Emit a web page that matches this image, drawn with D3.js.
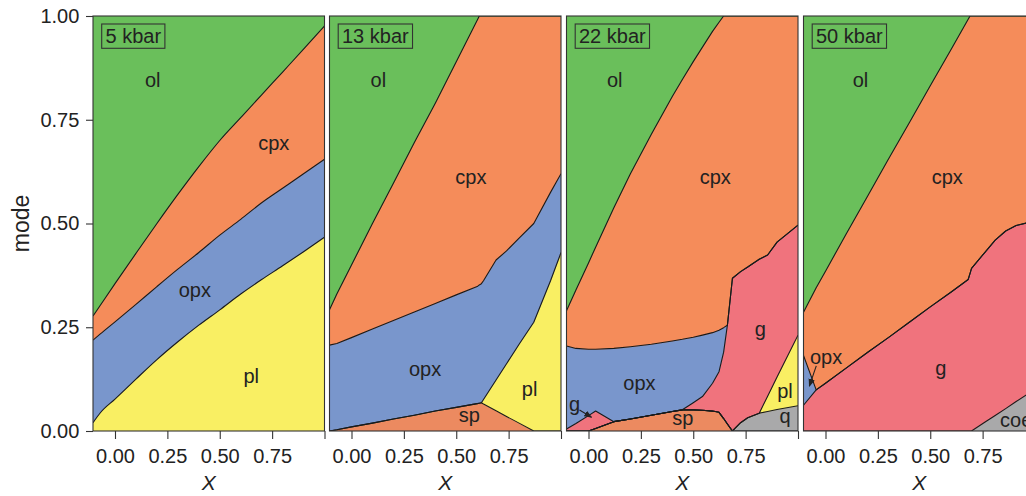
<!DOCTYPE html>
<html><head><meta charset="utf-8">
<script src="https://cdn.jsdelivr.net/npm/d3@7"></script>
<style>
body{margin:0;background:#fff}
svg text{font-family:"Liberation Sans",Arial,Helvetica,sans-serif;fill:#222}
</style>
</head><body><svg id="c" width="1026" height="496"></svg>
<script>
// ---------- data ----------
const panelNames = ["5 kbar", "13 kbar", "22 kbar", "50 kbar"];
const xDomain = [-0.105, 1.0];
const xTicks = [0, 0.25, 0.5, 0.75, 1.0];
const xTickLabels = ["0.00", "0.25", "0.50", "0.75", ""];
const yTicks = [0, 0.25, 0.5, 0.75, 1.0];
const yTickLabels = ["0.00", "0.25", "0.50", "0.75", "1.00"];

// 5 kbar (stack order bottom -> top: pl, opx, cpx, ol)
const X5   = [-0.105,-0.07,0,0.1,0.2,0.3,0.4,0.5,0.6,0.7,0.8,0.9,1.0];
const pl5  = [0.020,0.044,0.077,0.125,0.172,0.215,0.255,0.292,0.330,0.365,0.398,0.432,0.467];
const opx5 = [0.199,0.190,0.186,0.180,0.176,0.175,0.175,0.180,0.180,0.185,0.187,0.188,0.188];
const cpx5 = [0.058,0.069,0.092,0.123,0.152,0.180,0.207,0.228,0.245,0.260,0.280,0.300,0.321];
const ol5  = [0.723,0.697,0.645,0.572,0.500,0.430,0.363,0.300,0.245,0.190,0.135,0.080,0.024];

// 13 kbar (sp, pl, opx, cpx, ol)
const X13   = [-0.105,-0.07,0,0.1,0.2,0.3,0.4,0.5,0.6,0.61,0.62,0.63,0.69,0.74,0.8,0.87,0.95,1.0];
const sp13  = [0,0.003,0.010,0.019,0.029,0.038,0.048,0.057,0.066,0.067,0.068,0.065,0.049,0.035,0.019,0,0,0];
const pl13  = [0,0,0,0,0,0,0,0,0,0,0,0.011,0.074,0.127,0.190,0.262,0.362,0.430];
const opx13 = [0.207,0.208,0.215,0.227,0.237,0.249,0.259,0.271,0.282,0.285,0.287,0.286,0.289,0.272,0.256,0.238,0.213,0.190];
const cpx13 = [0.085,0.119,0.175,0.254,0.331,0.408,0.483,0.562,0.642,0.648,0.645,0.638,0.588,0.566,0.535,0.500,0.425,0.380];
const ol13  = [0.708,0.670,0.600,0.500,0.403,0.305,0.210,0.110,0.010,0,0,0,0,0,0,0,0,0];

// 22 kbar (sp, q, pl, g, opx, cpx, ol)
const X22   = [-0.105,-0.06,0,0.034,0.121,0.2,0.3,0.4,0.448,0.5,0.544,0.592,0.623,0.645,0.663,0.687,0.726,0.76,0.815,0.855,0.9,1.0];
const sp22  = [0,0,0,0.006,0.0225,0.029,0.038,0.047,0.051,0.051,0.050,0.048,0.045,0.030,0.017,0,0,0,0,0,0,0];
const q22   = [0,0,0,0,0,0,0,0,0,0,0,0,0,0,0,0,0.020,0.032,0.043,0.047,0.052,0.061];
const pl22  = [0,0,0,0,0,0,0,0,0,0,0,0,0,0,0,0,0,0,0,0.037,0.078,0.170];
const g22   = [0.005,0.018,0.037,0.042,0,0,0,0,0,0.017,0.033,0.067,0.098,0.160,0.238,0.368,0.364,0.363,0.371,0.340,0.325,0.265];
const opx22 = [0.200,0.181,0.160,0.149,0.1765,0.174,0.171,0.170,0.170,0.158,0.148,0.122,0.100,0.059,0,0,0,0,0,0,0,0];
const cpx22 = [0.085,0.141,0.208,0.246,0.339,0.417,0.506,0.589,0.626,0.664,0.694,0.726,0.742,0.751,0.745,0.632,0.616,0.605,0.586,0.576,0.545,0.504];
const ol22  = [0.710,0.660,0.595,0.557,0.462,0.380,0.285,0.194,0.153,0.110,0.075,0.037,0.015,0,0,0,0,0,0,0,0,0];

// 50 kbar (coe, g, opx, cpx, ol)
const X50   = [-0.105,-0.0445,0,0.1,0.2,0.3,0.4,0.5,0.6,0.681,0.69,0.697,0.76,0.81,0.86,0.91,0.965,1.0];
const coe50 = [0,0,0,0,0,0,0,0,0,0,0,0,0.021,0.0375,0.054,0.071,0.089,0.100];
const g50   = [0.062,0.099,0.115,0.152,0.189,0.225,0.262,0.299,0.335,0.365,0.380,0.392,0.409,0.4225,0.428,0.424,0.413,0.405];
const opx50 = [0.120,0,0,0,0,0,0,0,0,0,0,0,0,0,0,0,0,0];
const cpx50 = [0.104,0.246,0.270,0.324,0.376,0.430,0.481,0.533,0.585,0.627,0.620,0.608,0.570,0.540,0.518,0.505,0.498,0.495];
const ol50  = [0.714,0.655,0.615,0.524,0.435,0.345,0.257,0.168,0.080,0.008,0,0,0,0,0,0,0,0];

// phase labels: [text, X, mode]
const labels5  = [["ol",0.18,0.828],["cpx",0.758,0.677],["opx",0.381,0.324],["pl",0.65,0.116]];
const labels13 = [["ol",0.128,0.828],["cpx",0.57,0.594],["opx",0.351,0.1325],["sp",0.562,0.0225],["pl",0.85,0.084]];
const labels22 = [["ol",0.125,0.828],["cpx",0.605,0.594],["g",0.82,0.23],["opx",0.243,0.10],["sp",0.45,0.0145],["pl",0.938,0.079],["q",0.938,0.0185],["g",-0.066,0.049]];
const labels50 = [["ol",0.167,0.828],["cpx",0.581,0.594],["g",0.551,0.135],["coe",0.91,0.0104],["opx",0.003,0.161]];
// arrows: [X0, mode0, X1, mode1]
const arrows22 = [[-0.043,0.0506,0.0144,0.033]];
const arrows50 = [[-0.044,0.157,-0.077,0.108]];

const phaseColors = {ol:"#6abf5b",cpx:"#f58c5a",opx:"#7996cc",pl:"#f9ef63",sp:"#ec8a60",g:"#f0737d",q:"#a9a9aa",coe:"#a9a9aa"};

// ---------- layout ----------
const svg = d3.select("#c");
const PT = 16, PH = 415, PW = 231.5;
const lefts = [93, 329.5, 566.5, 803.5];
const FS = 20;
const y = d3.scaleLinear().domain([0,1]).range([PT+PH, PT]);

const panels = [
  {xs:X5,  layers:[["pl",pl5],["opx",opx5],["cpx",cpx5],["ol",ol5]], labels:labels5, arrows:[], curve:d3.curveMonotoneX},
  {xs:X13, layers:[["sp",sp13],["pl",pl13],["opx",opx13],["cpx",cpx13],["ol",ol13]], labels:labels13, arrows:[], curve:d3.curveLinear},
  {xs:X22, layers:[["sp",sp22],["q",q22],["pl",pl22],["g",g22],["opx",opx22],["cpx",cpx22],["ol",ol22]], labels:labels22, arrows:arrows22, curve:d3.curveLinear},
  {xs:X50, layers:[["coe",coe50],["g",g50],["opx",opx50],["cpx",cpx50],["ol",ol50]], labels:labels50, arrows:arrows50, curve:d3.curveLinear}
];

const defs = svg.append("defs");
defs.append("marker").attr("id","ah").attr("viewBox","0 0 10 10").attr("refX",9).attr("refY",5)
  .attr("markerWidth",8).attr("markerHeight",8).attr("orient","auto-start-reverse")
  .attr("markerUnits","userSpaceOnUse")
  .append("path").attr("d","M0,1 L10,5 L0,9 Z").attr("fill","#222");

panels.forEach((pd,i) => {
  const left = lefts[i];
  const x = d3.scaleLinear().domain(xDomain).range([left, left+PW]);
  const cid = "clip"+i;
  defs.append("clipPath").attr("id",cid).append("rect").attr("x",left).attr("y",PT).attr("width",PW).attr("height",PH);
  const keys = pd.layers.map(d=>d[0]);
  const rows = pd.xs.map((xv,j) => { const r = {x:xv}; pd.layers.forEach(([k,arr]) => r[k]=arr[j]); return r; });
  const stacked = d3.stack().keys(keys)(rows);
  const area = d3.area().curve(pd.curve).x(d=>x(d.data.x)).y0(d=>y(d[0])).y1(d=>y(d[1]));
  const line = d3.line().curve(pd.curve).x(d=>x(d.data.x)).y(d=>y(d[1]));
  const plot = svg.append("g").attr("clip-path",`url(#${cid})`);
  plot.selectAll("path.area").data(stacked).join("path").attr("class","area")
    .attr("d",area).attr("fill",d=>phaseColors[d.key]).attr("stroke",d=>phaseColors[d.key]).attr("stroke-width",0.5);
  plot.selectAll("path.bnd").data(stacked.slice(0,-1)).join("path").attr("class","bnd")
    .attr("d",line).attr("fill","none").attr("stroke","#1a1a1a").attr("stroke-width",1.1).attr("stroke-linejoin","round");

  plot.selectAll("text.lab").data(pd.labels).join("text").attr("class","lab")
    .attr("x",d=>x(d[1])).attr("y",d=>y(d[2])).attr("text-anchor","middle")
    .attr("font-size",FS).text(d=>d[0]);
  plot.selectAll("line.arr").data(pd.arrows).join("line").attr("class","arr")
    .attr("x1",d=>x(d[0])).attr("y1",d=>y(d[1])).attr("x2",d=>x(d[2])).attr("y2",d=>y(d[3]))
    .attr("stroke","#222").attr("stroke-width",1.1).attr("marker-end","url(#ah)");

  svg.append("rect").attr("x",left).attr("y",PT).attr("width",PW).attr("height",PH)
    .attr("fill","none").attr("stroke","#333").attr("stroke-width",1.1);

  const t = svg.append("text").attr("x",left+12.5).attr("y",PT+27.3).attr("font-size",FS).text(panelNames[i]);
  const tw = t.node().getComputedTextLength();
  svg.append("rect").attr("x",left+8.7).attr("y",PT+8).attr("width",tw+7.6).attr("height",24.3)
    .attr("fill","none").attr("stroke","#333").attr("stroke-width",1.1);

  const ax = svg.append("g").attr("transform",`translate(0,${PT+PH})`)
    .call(d3.axisBottom(x).tickValues(xTicks).tickFormat((d,k)=>xTickLabels[k]).tickSize(8).tickPadding(9.5));
  ax.select(".domain").remove();
  ax.attr("font-family",null).attr("font-size",null);
  ax.selectAll(".tick line").attr("stroke","#333").attr("stroke-width",1.1);
  ax.selectAll(".tick text").attr("font-size",FS).attr("fill","#222");

  svg.append("text").attr("x",left+PW/2).attr("y",490).attr("text-anchor","middle")
    .attr("font-size",21).attr("font-style","italic").text("X");

  if (i === 0) {
    const ay = svg.append("g").attr("transform",`translate(${left},0)`)
      .call(d3.axisLeft(y).tickValues(yTicks).tickFormat((d,k)=>yTickLabels[k]).tickSize(7).tickPadding(6.7));
    ay.select(".domain").remove();
    ay.attr("font-family",null).attr("font-size",null);
    ay.selectAll(".tick line").attr("stroke","#333").attr("stroke-width",1.1);
    ay.selectAll(".tick text").attr("font-size",FS).attr("fill","#222");
  }
});

svg.append("text").attr("transform",`translate(29,${PT+PH/2}) rotate(-90)`)
  .attr("text-anchor","middle").attr("font-size",23).text("mode");
</script>
</body></html>
